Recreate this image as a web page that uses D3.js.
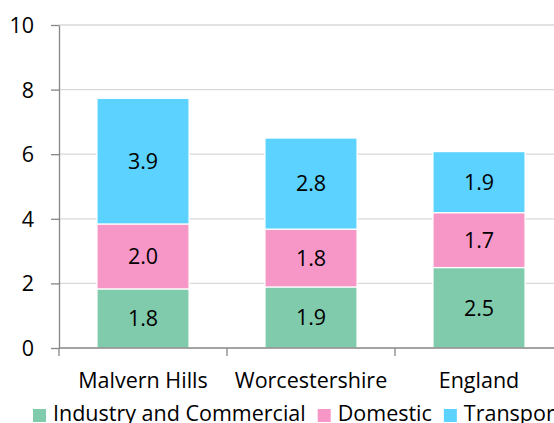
<!DOCTYPE html>
<html><head><meta charset="utf-8">
<script src="https://cdn.jsdelivr.net/npm/d3@7"></script>
<style>html,body{margin:0;padding:0;background:#fff;overflow:hidden}</style>
</head><body>
<svg id="c" width="554" height="423"></svg>
<script>
const categories = ["Malvern Hills", "Worcestershire", "England"];
const seriesNames = ["Industry and Commercial", "Domestic", "Transport"];
const industry = [1.83, 1.89, 2.49];
const domestic = [2.01, 1.79, 1.70];
const transport = [3.89, 2.82, 1.89];
const labelsIndustry = ["1.8", "1.9", "2.5"];
const labelsDomestic = ["2.0", "1.8", "1.7"];
const labelsTransport = ["3.9", "2.8", "1.9"];
const yTicks = [0, 2, 4, 6, 8, 10];
const colors = ["#80CBAC", "#F797C8", "#5BD2FF"];

const font = "'Open Sans', sans-serif";
const fs = 21.5;
const svg = d3.select("#c");
const m = {left: 59, top: 25, bottom: 348};
const x = d3.scaleBand().domain(categories).range([m.left, m.left + 168 * 3]).padding(0);
const y = d3.scaleLinear().domain([0, 10]).range([m.bottom, m.top]);
const barW = x.bandwidth() * 0.548;

// gridlines
svg.append("g").selectAll("line").data(yTicks.filter(d => d > 0)).join("line")
  .attr("x1", m.left).attr("x2", 600)
  .attr("y1", d => y(d)).attr("y2", d => y(d))
  .attr("stroke", "#d9d9d9").attr("stroke-width", 1.3);

// stacked data
const rows = categories.map((c, i) => ({cat: c, industry: industry[i], domestic: domestic[i], transport: transport[i]}));
const keys = ["industry", "domestic", "transport"];
const labelSets = [labelsIndustry, labelsDomestic, labelsTransport];
const stack = d3.stack().keys(keys)(rows);

stack.forEach((layer, li) => {
  const g = svg.append("g");
  g.selectAll("rect").data(layer).join("rect")
    .attr("x", d => x(d.data.cat) + (x.bandwidth() - barW) / 2)
    .attr("width", barW)
    .attr("y", d => y(d[1]))
    .attr("height", d => y(d[0]) - y(d[1]))
    .attr("fill", colors[li])
    .attr("stroke", "#fff").attr("stroke-width", 1.2);
  g.selectAll("text").data(layer).join("text")
    .attr("x", d => x(d.data.cat) + x.bandwidth() / 2)
    .attr("y", d => (y(d[0]) + y(d[1])) / 2)
    .attr("dy", "0.36em")
    .attr("text-anchor", "middle")
    .attr("font-family", font).attr("font-size", fs).attr("fill", "#000")
    .text((d, i) => labelSets[li][i]);
});

// y axis
const ya = svg.append("g").attr("transform", `translate(${m.left},0)`)
  .call(d3.axisLeft(y).tickValues(yTicks).tickSize(8).tickSizeOuter(0).tickFormat(d3.format("d")));
ya.select(".domain").attr("stroke", "#868686").attr("stroke-width", 1.3);
ya.selectAll(".tick line").attr("stroke", "#868686").attr("stroke-width", 1.3);
ya.selectAll(".tick text").attr("font-family", font).attr("font-size", fs).attr("fill", "#000")
  .attr("x", -25).attr("text-anchor", "end").attr("dy", "0.35em");

// x axis
svg.append("line").attr("x1", m.left).attr("x2", 600).attr("y1", y(0)).attr("y2", y(0))
  .attr("stroke", "#868686").attr("stroke-width", 1.3);
const bounds = categories.map(c => x(c)).concat([x(categories[categories.length - 1]) + x.bandwidth()]);
svg.append("g").selectAll("line").data(bounds).join("line")
  .attr("x1", d => d).attr("x2", d => d)
  .attr("y1", y(0)).attr("y2", y(0) + 8)
  .attr("stroke", "#868686").attr("stroke-width", 1.3);
svg.append("g").selectAll("text").data(categories).join("text")
  .attr("x", d => x(d) + x.bandwidth() / 2)
  .attr("y", 388)
  .attr("text-anchor", "middle")
  .attr("font-family", font).attr("font-size", fs).attr("fill", "#000")
  .text(d => d);

// legend
let lx = 33;
const lg = svg.append("g");
seriesNames.forEach((name, i) => {
  lg.append("rect").attr("x", lx).attr("y", 409).attr("width", 13).attr("height", 13).attr("fill", colors[i]);
  const t = lg.append("text").attr("x", lx + 20).attr("y", 421)
    .attr("font-family", font).attr("font-size", fs).attr("fill", "#000").text(name);
  lx = lx + 20 + t.node().getComputedTextLength() + 12;
});
</script>
</body></html>
